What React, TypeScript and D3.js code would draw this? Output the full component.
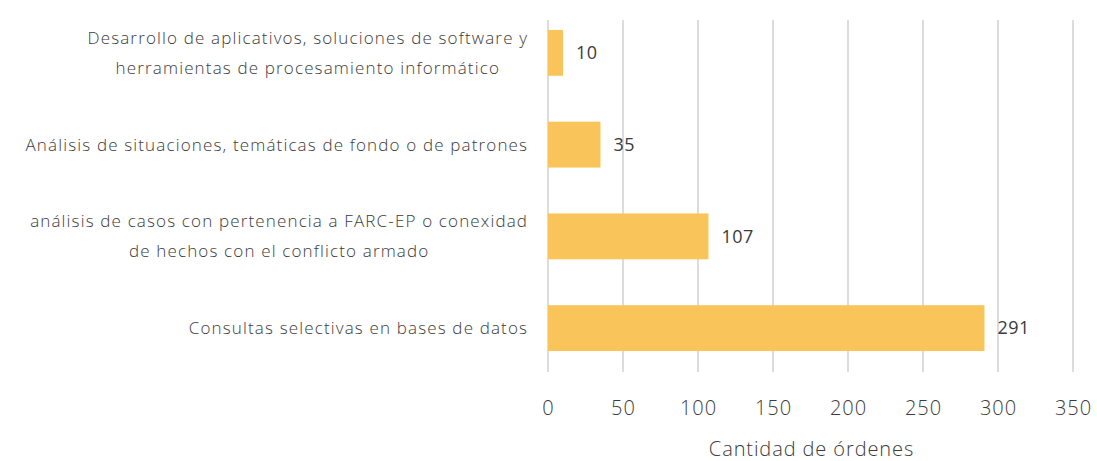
import React from "react";
import * as d3 from "d3";

const categories: string[][] = [
  ["Desarrollo de aplicativos, soluciones de software y", "herramientas de procesamiento informático"],
  ["Análisis de situaciones, temáticas de fondo o de patrones"],
  ["análisis de casos con pertenencia a FARC-EP o conexidad", "de hechos con el conflicto armado"],
  ["Consultas selectivas en bases de datos"],
];
const values: number[] = [10, 35, 107, 291];
const ticks: number[] = [0, 50, 100, 150, 200, 250, 300, 350];
const axisTitle = "Cantidad de órdenes";

const W = 1097;
const H = 461;
const left = 548;
const right = 1073;
const top = 7;
const bottom = 374;

const font = "'Open Sans', sans-serif";
const labelSize = 17;
const labelLS = 1.15;

function measure(text: string, size: number, weight: number, ls: number): number {
  const c = document.createElement("canvas").getContext("2d");
  if (!c) return text.length * size * 0.55;
  c.font = `${weight} ${size}px 'Open Sans'`;
  return c.measureText(text).width + ls * text.length;
}

export default function App() {
  const x = d3.scaleLinear().domain([0, 350]).range([left, right]);
  const y = d3
    .scaleBand<number>()
    .domain(values.map((_, i) => i))
    .range([top, bottom])
    .paddingInner(0.5)
    .paddingOuter(0.25);
  const textColor = "#3b3b3b";
  const labelRight = 527 + labelLS;
  return (
    <div style={{ position: "fixed", left: 0, top: 0 }}>
      <svg width={W} height={H} style={{ display: "block", background: "#fff" }}>
        {ticks.map((t) => (
          <line
            key={"g" + t}
            x1={x(t)}
            x2={x(t)}
            y1={20}
            y2={372}
            stroke="#dcdcdc"
            strokeWidth={2}
          />
        ))}
        {values.map((v, i) => {
          const y0 = y(i)!;
          const bw = y.bandwidth();
          const cy = y0 + bw / 2;
          const lines = categories[i];
          const lh = 30;
          const maxW = Math.max(...lines.map((l) => measure(l, labelSize, 300, labelLS)));
          const cx = labelRight - maxW / 2;
          return (
            <g key={i}>
              <rect x={x(0)} y={y0} width={x(v) - x(0)} height={bw} fill="#F9C55B" />
              <text
                x={x(v) + 13}
                y={cy}
                dy="0.35em"
                fontFamily={font}
                fontSize={18}
                letterSpacing={0.5}
                fill={textColor}
              >
                {v}
              </text>
              {lines.map((l, j) => (
                <text
                  key={j}
                  x={lines.length === 1 ? labelRight : cx}
                  y={cy + (j - (lines.length - 1) / 2) * lh}
                  dy="0.35em"
                  textAnchor={lines.length === 1 ? "end" : "middle"}
                  fontFamily={font}
                  fontSize={labelSize}
                  fontWeight={300}
                  letterSpacing={labelLS}
                  fill={textColor}
                >
                  {l}
                </text>
              ))}
            </g>
          );
        })}
        {ticks.map((t) => (
          <text
            key={"t" + t}
            x={x(t) + 0.5}
            y={408}
            dy="0.35em"
            textAnchor="middle"
            fontFamily={font}
            fontSize={20}
            fontWeight={300}
            letterSpacing={1}
            fill={textColor}
          >
            {t}
          </text>
        ))}
        <text
          x={(x(0) + x(350)) / 2 + 1}
          y={449}
          dy="0.35em"
          textAnchor="middle"
          fontFamily={font}
          fontSize={20}
          fontWeight={300}
          letterSpacing={0.9}
          fill={textColor}
        >
          {axisTitle}
        </text>
      </svg>
    </div>
  );
}
